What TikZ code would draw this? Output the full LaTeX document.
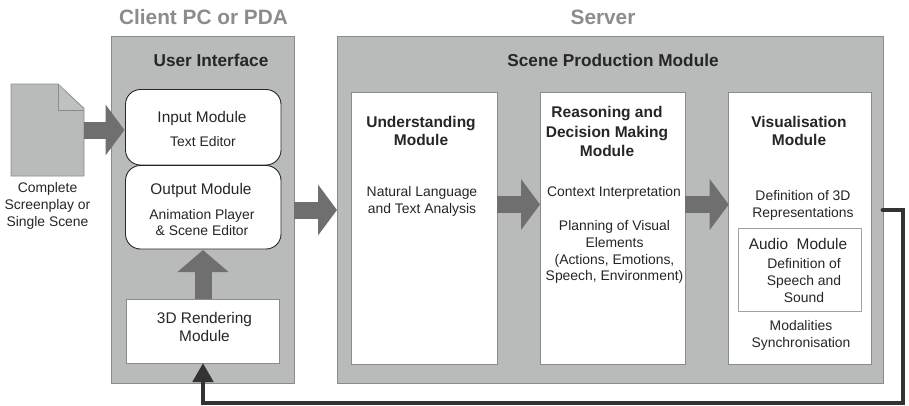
\documentclass[tikz,border=0pt]{standalone}
\usepackage{fontspec}
\setmainfont{Liberation Sans}
\usetikzlibrary{arrows.meta}
\definecolor{panelgray}{HTML}{B9BBBA}
\definecolor{edgegray}{HTML}{8A8C8B}
\definecolor{arrowgray}{HTML}{6F6F6F}
\definecolor{headgray}{HTML}{8C8C8C}
\definecolor{inkgray}{HTML}{262626}
\definecolor{linkdark}{HTML}{333333}
\newcommand{\fsize}[1]{\fontsize{#1}{#1}\selectfont}
\tikzset{
  x=1pt,y=-1pt,
  box/.style={anchor=north west,inner sep=0pt,outer sep=0pt},
  panel/.style={box,draw=edgegray,line width=0.9pt,fill=panelgray},
  module/.style={box,draw=edgegray,line width=0.9pt,fill=white},
  roundmod/.style={box,draw=black!85,line width=0.9pt,fill=white,rounded corners=15pt},
  headtext/.style={font=\fsize{20.8}\bfseries,text=headgray,inner sep=0pt},
  titletext/.style={font=\fsize{17.2}\bfseries,text=inkgray,inner sep=0pt,align=center},
  modtitle/.style={font=\fsize{15.5}\bfseries,text=inkgray,inner sep=0pt,align=center},
  bigtext/.style={font=\fsize{15.4},text=inkgray,inner sep=0pt,align=center},
  smalltext/.style={font=\fsize{13.9},text=inkgray,inner sep=0pt,align=center},
  blockarrow/.style={draw=arrowgray,line width=17pt,-{Triangle[length=19pt,width=50pt,color=arrowgray]}},
  uparrow/.style={draw=arrowgray,line width=17pt,-{Triangle[length=22pt,width=50pt,color=arrowgray]}},
  feedback/.style={draw=linkdark,line width=4.8pt,line cap=round,line join=miter,-{Triangle[length=19pt,width=20pt,color=linkdark]}},
}
\begin{document}
\begin{tikzpicture}
\useasboundingbox (0,0) rectangle (909,405);
% headings
\node[headtext] (hclient) at (203.5,17) {Client PC or PDA};
\node[headtext] (hserver) at (603,17) {Server};
% panels
\node[panel,minimum width=183pt,minimum height=347pt] (client) at (111,36) {};
\node[panel,minimum width=546pt,minimum height=347pt] (server) at (337,36) {};
\node[titletext] (tclient) at (211,60) {User Interface};
\node[titletext] (tserver) at (613,60) {Scene Production Module};
% document
\node[inner sep=0pt,minimum size=0pt] (doc) at (47.5,130) {};
\draw[draw=edgegray,line width=0.9pt,fill=panelgray] (11,84) -- (58,84) -- (84,108.5) -- (84,176) -- (11,176) -- cycle;
\draw[draw=edgegray,line width=0.9pt,fill=panelgray!92!white] (58,84) -- (58,110) -- (84,110);
\coordinate (docout) at (84,130);
\node[smalltext] (doclabel) at (47.5,205.5) {Complete\\[3pt]Screenplay or\\[3pt]Single Scene};
% client modules
\node[roundmod,minimum width=155.5pt,minimum height=75.5pt] (input) at (125.5,89.5) {};
\node[roundmod,minimum width=155.5pt,minimum height=83.5pt] (output) at (125.5,165.5) {};
\node[module,minimum width=153pt,minimum height=64pt] (render) at (126,299) {};
\node[bigtext] (t1) at (202,118.5) {Input Module};
\node[smalltext] (t2) at (203,141.5) {Text Editor};
\node[bigtext] (t3) at (201,191) {Output Module};
\node[smalltext] (t4) at (202,222.5) {Animation Player\\[3pt]\& Scene Editor};
\node[bigtext] (t5) at (204.5,326.7) {3D Rendering\\[3pt]Module};
% server modules
\node[module,minimum width=146pt,minimum height=272pt] (under) at (351,92) {};
\node[module,minimum width=145pt,minimum height=272pt] (reason) at (540,92) {};
\node[module,minimum width=142.5pt,minimum height=272pt] (visual) at (728.7,92) {};
\node[module,draw=edgegray!80,minimum width=123.5pt,minimum height=83pt] (audio) at (738,228) {};
\node[modtitle] (u1) at (421,131) {Understanding\\[3pt]Module};
\node[smalltext] (u2) at (422,201) {Natural Language\\[3pt]and Text Analysis};
\node[modtitle] (r1) at (607,131.5) {Reasoning and\\[4pt]Decision Making\\[4pt]Module};
\node[smalltext] (r2) at (614,192.5) {Context Interpretation};
\node[smalltext] (r3) at (614.5,252) {Planning of Visual\\[3pt]Elements\\[3pt](Actions, Emotions,\\[3pt]Speech, Environment)};
\node[modtitle] (v1) at (799,131) {Visualisation\\[3pt]Module};
\node[smalltext] (v2) at (803,205.5) {Definition of 3D\\[3pt]Representations};
\node[bigtext] (a1) at (798,244) {Audio\ \ Module};
\node[smalltext] (a2) at (804,280.5) {Definition of\\[3pt]Speech and\\[3pt]Sound};
\node[smalltext] (v3) at (801,335) {Modalities\\[3pt]Synchronisation};
% block arrows
\draw[blockarrow,shorten >=1pt] (docout) -- (input.west |- docout);
\draw[uparrow] (render.north -| 203,0) -- (203,250);
\draw[blockarrow] (client.east |- 0,210) -- (server.west |- 0,210);
\draw[blockarrow] (under.east |- 0,204.5) -- (reason.west |- 0,204.5);
\draw[blockarrow] (reason.east |- 0,204.5) -- (visual.west |- 0,204.5);
% feedback
\coordinate (fbstart) at (server.east |- 0,210);
\draw[feedback] (fbstart) -- (903,210) -- (903,403) -- (203,403) -- (render.south -| 203,0);
\end{tikzpicture}
\end{document}
